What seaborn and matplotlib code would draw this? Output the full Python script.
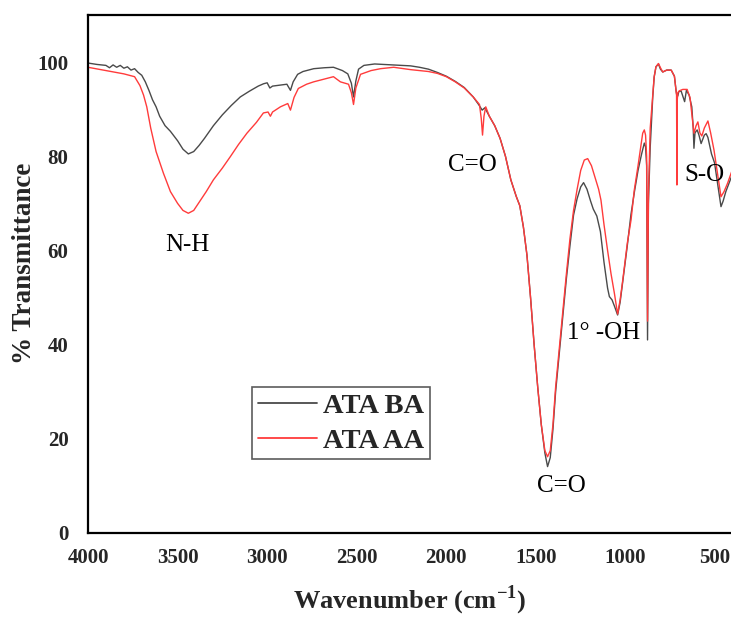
import numpy as np
import pandas as pd
import matplotlib
matplotlib.use("Agg")
import matplotlib.pyplot as plt
import seaborn as sns

# ---- data ----
series_names = ["ATA BA", "ATA AA"]

ba_wn = [4000, 3950, 3900, 3880, 3860, 3840, 3820, 3800, 3780, 3760, 3740, 3720, 3700,
         3680, 3660, 3640, 3620, 3600, 3570, 3540, 3500, 3470, 3440, 3410, 3380, 3350,
         3300, 3250, 3200, 3150, 3100, 3050, 3020, 3000, 2985, 2970, 2930, 2890, 2870,
         2855, 2830, 2800, 2740, 2680, 2630, 2580, 2550, 2530, 2518, 2505, 2490, 2460,
         2400, 2300, 2200, 2150, 2100, 2050, 2000, 1950, 1900, 1850, 1820, 1800, 1785,
         1760, 1730, 1700, 1670, 1640, 1610, 1590, 1570, 1550, 1530, 1510, 1490, 1470,
         1450, 1435, 1420, 1405, 1390, 1370, 1350, 1330, 1310, 1290, 1270, 1250, 1234,
         1215, 1195, 1180, 1160, 1140, 1120, 1100, 1090, 1075, 1060, 1044, 1030, 1010,
         990, 970, 950, 930, 910, 895, 888, 882, 877, 872, 862, 857, 848, 840, 830, 816,
         805, 792, 770, 745, 727, 718, 714, 708, 703, 690, 670, 660, 645, 630, 622, 618,
         612, 600, 590, 578, 560, 550, 540, 520, 503, 485, 467, 455, 440, 425, 405]
ba_t = [99.8, 99.5, 99.3, 98.8, 99.4, 98.9, 99.3, 98.7, 99.0, 98.3, 98.6, 97.8, 97.2,
        95.8, 94.0, 92.0, 90.5, 88.5, 86.5, 85.3, 83.3, 81.5, 80.5, 81.0, 82.3, 83.8,
        86.5, 88.8, 90.8, 92.6, 93.8, 94.9, 95.4, 95.6, 94.5, 94.9, 95.1, 95.3, 94.0,
        95.8, 97.4, 98.0, 98.6, 98.8, 98.9, 98.2, 97.5, 95.5, 92.6, 96.0, 98.5, 99.3,
        99.6, 99.4, 99.2, 98.9, 98.5, 97.8, 97.0, 95.9, 94.6, 92.6, 91.0, 89.8, 90.3,
        88.5, 86.5, 83.8, 80.0, 75.0, 71.5, 69.5, 65.0, 59.0, 50.0, 40.0, 31.0, 23.0,
        17.0, 14.1, 16.0, 22.0, 30.0, 38.0, 46.0, 54.0, 61.0, 67.5, 71.0, 73.5, 74.4,
        73.0, 70.5, 68.8, 67.3, 64.0, 57.5, 52.0, 50.2, 49.5, 48.0, 46.3, 49.0, 55.0,
        61.0, 67.5, 72.5, 77.0, 80.5, 82.8, 82.0, 78.0, 41.0, 70.0, 82.0, 86.0, 92.5,
        96.8, 99.0, 99.6, 98.5, 97.9, 98.3, 98.3, 97.0, 94.0, 93.0, 92.8, 93.7, 93.9,
        91.6, 94.0, 93.0, 90.5, 86.0, 81.7, 85.0, 85.6, 84.5, 82.7, 84.5, 84.8, 84.0,
        80.5, 78.6, 74.0, 69.3, 70.5, 72.5, 74.0, 76.0]

aa_wn = [4000, 3900, 3800, 3740, 3710, 3690, 3672, 3650, 3620, 3579, 3540, 3500, 3470,
         3440, 3410, 3380, 3340, 3300, 3250, 3206, 3160, 3113, 3060, 3021, 2995, 2982,
         2970, 2926, 2885, 2870, 2850, 2826, 2780, 2741, 2680, 2630, 2591, 2546, 2530,
         2518, 2505, 2479, 2420, 2367, 2294, 2200, 2100, 2050, 2000, 1950, 1900, 1850,
         1815, 1805, 1798, 1790, 1780, 1760, 1730, 1700, 1670, 1640, 1610, 1590, 1570,
         1550, 1530, 1510, 1490, 1470, 1450, 1435, 1420, 1405, 1390, 1370, 1350, 1330,
         1310, 1290, 1270, 1250, 1230, 1211, 1190, 1170, 1150, 1137, 1120, 1100, 1081,
         1062, 1044, 1030, 1016, 1006, 990, 969, 951, 930, 915, 904, 895, 888, 882, 877,
         872, 862, 857, 848, 840, 830, 816, 805, 792, 770, 745, 727, 718, 715, 713, 711,
         708, 700, 680, 656, 640, 630, 618, 606, 596, 585, 574, 560, 540, 525, 506, 485,
         467, 450, 430, 405]
aa_t = [98.9, 98.2, 97.5, 96.9, 95.0, 93.0, 90.5, 86.0, 81.0, 76.4, 72.5, 70.0, 68.5,
        67.9, 68.5, 70.2, 72.5, 75.0, 77.5, 79.9, 82.5, 84.9, 87.2, 89.2, 89.4, 88.5,
        89.4, 90.5, 91.2, 89.8, 92.5, 94.4, 95.3, 95.8, 96.4, 96.9, 95.8, 95.3, 93.5,
        91.0, 94.5, 97.4, 98.2, 98.6, 98.9, 98.4, 98.0, 97.6, 96.9, 95.8, 94.5, 92.6,
        91.0, 88.0, 84.5, 88.5, 90.5, 88.5, 86.5, 83.8, 80.0, 75.0, 71.5, 69.5, 65.0,
        59.0, 50.0, 40.0, 31.0, 23.0, 17.5, 16.2, 17.5, 23.0, 31.0, 39.0, 47.0, 55.0,
        62.5, 68.5, 73.0, 77.0, 79.2, 79.5, 78.0, 75.5, 73.0, 70.7, 65.5, 60.0, 55.1,
        50.9, 46.5, 49.5, 53.5, 56.6, 61.5, 66.5, 72.8, 78.0, 82.0, 84.9, 85.6, 84.5,
        80.0, 45.0, 72.0, 86.0, 88.4, 93.0, 96.9, 99.0, 99.7, 98.8, 97.9, 98.3, 98.3,
        97.0, 94.0, 93.0, 73.9, 92.0, 93.5, 93.9, 94.2, 94.2, 92.5, 89.0, 84.9, 86.5,
        87.3, 85.0, 84.3, 86.0, 87.5, 85.0, 81.3, 76.0, 71.4, 72.5, 74.3, 77.0]

x_ticks = [4000, 3500, 3000, 2500, 2000, 1500, 1000, 500]
y_ticks = [0, 20, 40, 60, 80, 100]

annotations = ["N-H", "C=O", "C=O", "1\u00b0 -OH", "S-O"]
annot_wn = [3446, 1852, 1360, 1120, 560]
annot_t = [61.2, 78.2, 10.0, 42.5, 76.0]

df = pd.concat([
    pd.DataFrame({"wn": ba_wn, "T": ba_t, "sample": series_names[0]}),
    pd.DataFrame({"wn": aa_wn, "T": aa_t, "sample": series_names[1]}),
], ignore_index=True)

sns.set_theme(style="white")
plt.rcParams["font.family"] = ["Liberation Serif", "DejaVu Serif"]
plt.rcParams["mathtext.fontset"] = "custom"
plt.rcParams["mathtext.rm"] = "Liberation Serif"
plt.rcParams["mathtext.bf"] = "Liberation Serif:bold"

W, H = 731, 619
fig = plt.figure(figsize=(W / 100, H / 100), dpi=100)
left, right, bottom, top = 88, 733, 533, 15
ax = fig.add_axes([left / W, (H - bottom) / H, (right - left) / W, (bottom - top) / H])

palette = {"ATA BA": "#4a4a4a", "ATA AA": "#ff3b3b"}
sns.lineplot(data=df, x="wn", y="T", hue="sample", palette=palette,
             estimator=None, sort=True, linewidth=1.0, ax=ax)

ax.set_xlim(4000, 400)
ax.set_ylim(0, 110)
ax.set_xticks(x_ticks)
ax.set_yticks(y_ticks)
ax.set_xticklabels([str(v) for v in x_ticks], fontsize=15, fontweight="bold")
ax.set_yticklabels([str(v) for v in y_ticks], fontsize=15, fontweight="bold")
ax.tick_params(axis="both", length=0)
ax.tick_params(axis="x", pad=11)
ax.tick_params(axis="y", pad=14)

for s in ["left", "bottom", "top", "right"]:
    ax.spines[s].set_color("black")
    ax.spines[s].set_linewidth(1.6)

ax.set_xlabel(r"Wavenumber (cm$^{\mathbf{-1}}$)", fontsize=19, fontweight="bold")
ax.xaxis.set_label_coords((410 - left) / (right - left), -(584 - bottom) / (bottom - top))
ax.set_ylabel("% Transmittance", fontsize=19.5, fontweight="bold")
ax.yaxis.set_label_coords((37 - left) / (right - left), (bottom - 263) / (bottom - top))

for txt, xw, yt in zip(annotations, annot_wn, annot_t):
    ax.text(xw, yt, txt, fontsize=18, ha="center", va="center", color="black")

handles, labels = ax.get_legend_handles_labels()
leg = ax.legend(handles, labels, loc="upper left", bbox_to_anchor=(0.254, 0.281),
                frameon=True, fancybox=False, edgecolor="#333333",
                prop={"family": "Liberation Serif", "weight": "bold", "size": 20.5},
                handlelength=2.1, handletextpad=0.2, borderpad=0.2,
                labelspacing=0.3, borderaxespad=0)
leg.get_frame().set_linewidth(1.2)
for line in leg.get_lines():
    line.set_linewidth(1.3)

fig.savefig("out.png", dpi=100)
